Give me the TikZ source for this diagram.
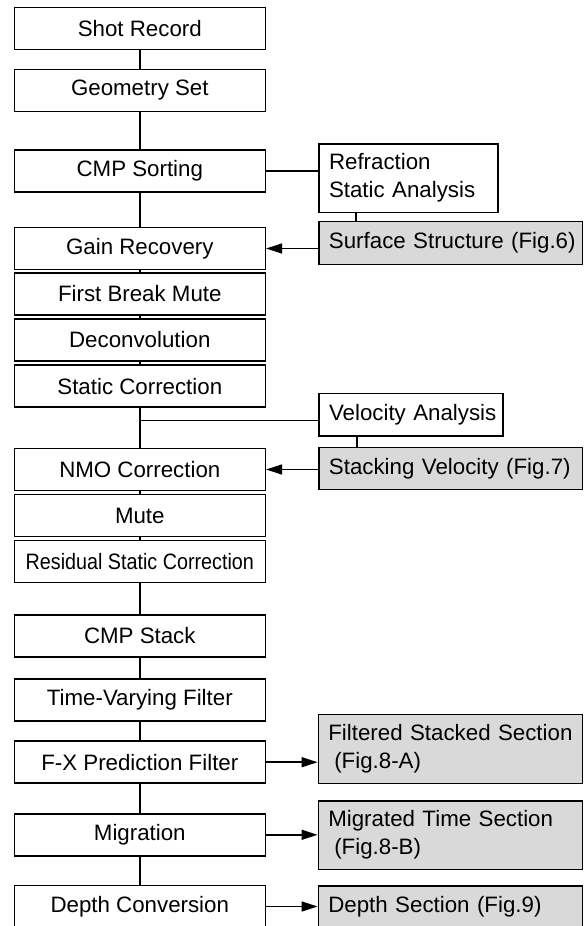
\documentclass[tikz,border=0pt]{standalone}
\usepackage{fontspec}
\setmainfont{Liberation Sans}
\usetikzlibrary{arrows.meta}
\begin{document}
\begin{tikzpicture}[x=1pt,y=-1pt,
  lbox/.style={draw, line width=1.5pt, minimum width=251pt, minimum height=42pt, inner sep=0pt, font=\fontsize{22.3}{28}\selectfont},
  rbox/.style={draw, line width=1.5pt, inner xsep=10pt, inner ysep=0pt, align=left, font=\fontsize{22.3}{28}\selectfont},
  gbox/.style={rbox, fill=gray!30},
  conn/.style={line width=1.5pt},
  arr/.style={conn, -{Triangle[length=16pt,width=10pt]}}
]
\fill[white] (0,0) rectangle (585,926);
\useasboundingbox (0,0) rectangle (585,926);

% main column
\node[lbox] (shot)  at (139.8,28.7)  {Shot Record};
\node[lbox] (geo)   at (139.8,90.5)  {Geometry Set};
\node[lbox] (cmp)   at (139.8,171.2) {CMP Sorting};
\node[lbox] (gain)  at (139.8,248.5) {Gain Recovery};
\node[lbox] (fbm)   at (139.8,293.8) {First Break Mute};
\node[lbox] (dec)   at (139.8,340)   {Deconvolution};
\node[lbox] (stc)   at (139.8,386.2) {Static Correction};
\node[lbox] (nmo)   at (139.8,469.5) {NMO Correction};
\node[lbox] (mute)  at (139.8,515.5) {Mute};
\node[lbox] (rsc)   at (139.8,561.7) {\scalebox{0.885}[1]{Residual Static Correction}};
\node[lbox] (stack) at (139.8,635.8) {CMP Stack};
\node[lbox] (tvf)   at (139.8,699.8) {Time-Varying Filter};
\node[lbox] (fx)    at (139.8,762.2) {F-X Prediction Filter};
\node[lbox] (mig)   at (139.8,834.8) {Migration};
\node[lbox] (depth) at (139.8,906.5) {Depth Conversion};

% side boxes
\node[rbox, text width=159pt, minimum height=68.3pt] (rsa) at (408.5,178.2) {Refraction\\Static Analysis};
\node[gbox, text width=243.7pt, minimum height=42.6pt] (ss) at (450.8,243) {\mbox{Surface Structure (Fig.6)}};
\node[rbox, text width=164pt, minimum height=42.7pt] (va) at (411,414.7) {\mbox{Velocity Analysis}};
\node[gbox, text width=243.7pt, minimum height=41.6pt] (sv) at (450.8,468.5) {\mbox{Stacking Velocity (Fig.7)}};
\node[gbox, text width=244.4pt, minimum height=69pt] (fss) at (450.5,748.8) {Filtered Stacked Section\\\hspace*{6pt}(Fig.8-A)};
\node[gbox, text width=244.4pt, minimum height=68.3pt] (mts) at (450.5,835.2) {Migrated Time Section\\\hspace*{6pt}(Fig.8-B)};
\node[gbox, text width=244.4pt, minimum height=42pt] (ds) at (450.5,907) {\mbox{Depth Section (Fig.9)}};

% main chain
\foreach \a/\b in {shot/geo, geo/cmp, cmp/gain, gain/fbm, fbm/dec, dec/stc, stc/nmo, nmo/mute, mute/rsc, rsc/stack, stack/tvf, tvf/fx, fx/mig, mig/depth}
  \draw[conn] (\a) -- (\b);

% refraction branch
\coordinate (rx) at (356,0);
\draw[conn] (cmp.east) -- (cmp.east -| rsa.west);
\draw[conn] (rsa.south -| rx) -- (ss.north -| rx);
\draw[arr] (gain.east -| ss.west) -- (gain.east);

% velocity branch
\coordinate (vb) at (139.8,420.5);
\coordinate (vx) at (357,0);
\draw[conn] (vb) -- (vb -| va.west);
\draw[conn] (va.south -| vx) -- (sv.north -| vx);
\draw[arr] (nmo.east -| sv.west) -- (nmo.east);

% outputs
\draw[arr] (fx.east) -- (fx.east -| fss.west);
\draw[arr] (mig.east) -- (mig.east -| mts.west);
\draw[arr] (depth.east) -- (depth.east -| ds.west);
\end{tikzpicture}
\end{document}
